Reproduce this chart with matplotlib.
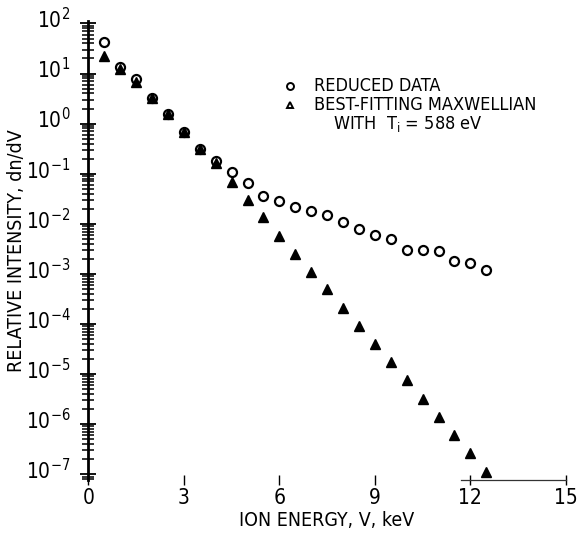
import matplotlib
matplotlib.use("Agg")
import matplotlib.pyplot as plt
import matplotlib.transforms as mtransforms
from matplotlib.ticker import FixedLocator, LogLocator, NullFormatter, FuncFormatter
import numpy as np

plt.rcParams['font.family'] = ['DejaVu Sans']
plt.rcParams['font.stretch'] = 'condensed'
plt.rcParams['mathtext.fontset'] = 'custom'
plt.rcParams['mathtext.rm'] = 'DejaVu Sans:stretch=condensed'
plt.rcParams['mathtext.it'] = 'DejaVu Sans:stretch=condensed'

# ion energy, keV
energy = [0.5, 1.0, 1.5, 2.0, 2.5, 3.0, 3.5, 4.0, 4.5, 5.0, 5.5, 6.0, 6.5,
          7.0, 7.5, 8.0, 8.5, 9.0, 9.5, 10.0, 10.5, 11.0, 11.5, 12.0, 12.5]

# reduced data (open circles)
reduced = [43, 13.6, 7.9, 3.3, 1.58, 0.68, 0.31, 0.176, 0.108, 0.065, 0.036,
           0.028, 0.0216, 0.018, 0.0147, 0.0111, 0.0078, 0.0059, 0.0049,
           0.0030, 0.0030, 0.0029, 0.0018, 0.00164, 0.0012]

# best-fitting maxwellian (filled triangles)
maxwell = [22, 12.5, 6.8, 3.2, 1.55, 0.67, 0.31, 0.165, 0.068, 0.030, 0.0134,
           0.0058, 0.00255, 0.00111, 4.9e-4, 2.1e-4, 9.2e-5, 4.0e-5, 1.74e-5,
           7.5e-6, 3.2e-6, 1.4e-6, 6.0e-7, 2.6e-7, 1.1e-7]

x_ticks = [0, 3, 6, 9, 12, 15]
y_decades = [1e-7, 1e-6, 1e-5, 1e-4, 1e-3, 1e-2, 1e-1, 1e0, 1e1, 1e2]

fig = plt.figure(figsize=(5.81, 5.36), dpi=100)
ax = fig.add_axes([0.152, 0.104, 0.822, 0.856])

ax.plot(energy, reduced, linestyle='none', marker='o', ms=6.5, mfc='none',
        mec='black', mew=1.6)
ax.plot(energy, maxwell, linestyle='none', marker='^', ms=6.5, color='black')

ax.set_yscale('log')
ax.set_xlim(0, 15)
ax.set_ylim(10 ** -7.12, 10 ** 2.04)

ax.spines['top'].set_visible(False)
ax.spines['right'].set_visible(False)
ax.spines['left'].set_linewidth(2.0)
ax.spines['bottom'].set_bounds(11.7, 15)
ax.spines['bottom'].set_linewidth(0.9)
ax.spines['bottom'].set_color('#333333')

ax.xaxis.set_major_locator(FixedLocator(x_ticks))
ax.tick_params(axis='x', direction='inout', length=7, width=1.0,
               labelsize=15, pad=2)
ax.yaxis.set_major_locator(FixedLocator(y_decades))
ax.yaxis.set_minor_locator(LogLocator(base=10, subs=np.arange(2, 10), numticks=20))
ax.yaxis.set_minor_formatter(NullFormatter())
ax.yaxis.set_major_formatter(FuncFormatter(lambda v, p: r'$10^{%d}$' % round(np.log10(v))))
ax.tick_params(axis='y', which='major', direction='inout', length=12, width=1.3,
               labelsize=15, pad=7)
ax.tick_params(axis='y', which='minor', direction='inout', length=8, width=1.1)

# the old plot sets its exponents a little above the tick
shift = mtransforms.ScaledTranslation(0, 4 / 72, fig.dpi_scale_trans)
for lab in ax.get_yticklabels():
    lab.set_transform(lab.get_transform() + shift)

ax.set_xlabel('ION ENERGY, V, keV', fontsize=14, labelpad=2)
ax.set_ylabel('RELATIVE INTENSITY, dn/dV', fontsize=14, labelpad=0)

# legend drawn by hand
ax.plot([0.422], [0.859], transform=ax.transAxes, linestyle='none', marker='o',
        ms=5, mfc='none', mec='black', mew=1.4, clip_on=False)
ax.plot([0.422], [0.818], transform=ax.transAxes, linestyle='none', marker='^',
        ms=5, mfc='none', mec='black', mew=1.4, clip_on=False)
ax.text(0.473, 0.859, 'REDUCED DATA', transform=ax.transAxes, fontsize=13,
        va='center', ha='left')
ax.text(0.473, 0.818, 'BEST-FITTING MAXWELLIAN', transform=ax.transAxes,
        fontsize=13, va='center', ha='left')
ax.text(0.512, 0.777, r'WITH  T$_\mathrm{i}$ = 588 eV', transform=ax.transAxes,
        fontsize=13, va='center', ha='left')

fig.savefig('out.png', dpi=100)
